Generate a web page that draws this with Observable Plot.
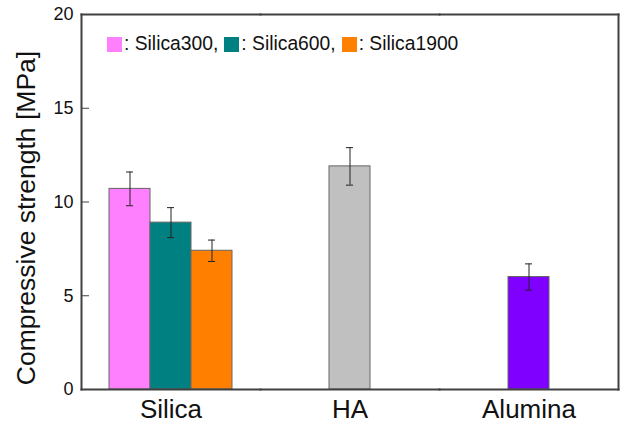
<!DOCTYPE html>
<html><head><meta charset="utf-8">
<script src="https://cdn.jsdelivr.net/npm/d3@7"></script>
<script src="https://cdn.jsdelivr.net/npm/@observablehq/plot@0.6"></script>
<style>
body{margin:0;background:#fff;font-family:"Liberation Sans",Arial,sans-serif;}
#wrap{position:relative;width:620px;height:424px;}
#legend{position:absolute;left:107px;top:33px;font-size:19.3px;display:flex;align-items:center;white-space:nowrap;color:#111;}
#legend .item{display:flex;align-items:center;margin-right:6px;}
#legend .sw{display:inline-block;width:15px;height:15px;margin-right:2px;}
</style></head><body><div id="wrap"></div>
<script>
const categories = ["Silica", "HA", "Alumina"];
const barNames = ["Silica300", "Silica600", "Silica1900", "HA", "Alumina"];
const barGroups = ["Silica", "Silica", "Silica", "HA", "Alumina"];
const values = [10.7, 8.9, 7.4, 11.9, 6.0];
const errors = [0.9, 0.8, 0.57, 1.0, 0.7];
const barColors = ["#ff80ff", "#008080", "#ff8000", "#c0c0c0", "#8000ff"];
const legendNames = ["Silica300", "Silica600", "Silica1900"];
const yTicks = [0, 5, 10, 15, 20];
const yTitle = "Compressive strength [MPa]";

// slot of each bar within its category group, centred on 0
const bars = barNames.map((name, i) => {
  const members = barNames.filter((_, j) => barGroups[j] === barGroups[i]);
  const k = members.indexOf(name);
  return {name, group: barGroups[i], value: values[i], err: errors[i], slot: k - (members.length - 1) / 2};
});
const slots = [-1, 0, 1];

const frameStyle = {stroke: "#404040", strokeWidth: 2};
const errStyle = {stroke: "#222", strokeWidth: 1};

const plot = Plot.plot({
  width: 620, height: 424,
  marginLeft: 81, marginRight: 2, marginTop: 14, marginBottom: 35,
  style: {fontFamily: '"Liberation Sans", Arial, sans-serif', color: "#111", background: "#fff"},
  fx: {domain: categories, padding: 0, label: null},
  x: {domain: slots, paddingInner: 0, paddingOuter: 0.631, axis: null},
  y: {domain: [0, 20]},
  color: {domain: barNames, range: barColors},
  marks: [
    Plot.barY(bars, {fx: "group", x: "slot", y: "value", fill: "name", stroke: "#666", strokeWidth: 1}),
    Plot.ruleX(bars, {fx: "group", x: "slot", y1: d => d.value - d.err, y2: d => d.value + d.err, ...errStyle}),
    Plot.tickY(bars, {fx: "group", x: "slot", y: d => d.value + d.err, insetLeft: 17, insetRight: 17, ...errStyle}),
    Plot.tickY(bars, {fx: "group", x: "slot", y: d => d.value - d.err, insetLeft: 17, insetRight: 17, ...errStyle}),
    Plot.frame({anchor: "top", ...frameStyle}),
    Plot.frame({anchor: "bottom", ...frameStyle}),
    Plot.frame({anchor: "left", facetAnchor: "left", ...frameStyle}),
    Plot.frame({anchor: "right", facetAnchor: "right", ...frameStyle}),
    Plot.axisY({ticks: yTicks, tickSize: -8, tickPadding: 16, fontSize: 18, label: null, stroke: "#404040"}),
    Plot.axisFx({anchor: "bottom", tickSize: 0, tickPadding: 10.5, fontSize: 26, label: null}),
    Plot.text([yTitle], {text: d => d, frameAnchor: "left", facetAnchor: "left", rotate: -90, dx: -65, dy: 16, lineAnchor: "top", textAnchor: "middle", fontSize: 26.5})
  ]
});

const wrap = document.getElementById("wrap");
wrap.appendChild(plot);

const legend = document.createElement("div");
legend.id = "legend";
legendNames.forEach((name, i) => {
  const item = document.createElement("span");
  item.className = "item";
  const sw = document.createElement("span");
  sw.className = "sw";
  sw.style.background = barColors[barNames.indexOf(name)];
  item.appendChild(sw);
  item.appendChild(document.createTextNode(": " + name + (i < legendNames.length - 1 ? "," : "")));
  legend.appendChild(item);
});
wrap.appendChild(legend);
</script>
</body></html>
